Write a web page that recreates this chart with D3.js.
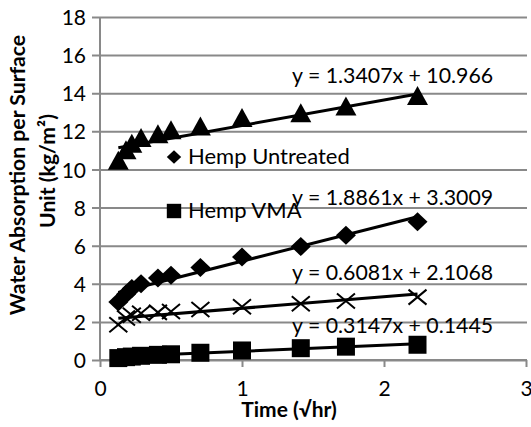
<!DOCTYPE html>
<html>
<head>
<meta charset="utf-8">
<script src="https://cdn.jsdelivr.net/npm/d3@7"></script>
<style>
  body { margin: 0; background: #fff; }
  svg { display: block; }
  text { font-family: Lato, "Open Sans", sans-serif; fill: #000; }
</style>
</head>
<body>
<svg id="chart" width="531" height="427"></svg>
<script>
// Square root of elapsed time (√hr) for every reading
const sqrtTime = [0.129, 0.183, 0.224, 0.289, 0.408, 0.5, 0.707, 1, 1.414, 1.732, 2.236];

// Water absorption per surface unit (kg/m²), one array per sample
const triangleValues = [10.4, 10.95, 11.3, 11.6, 11.8, 12.0, 12.2, 12.65, 12.9, 13.25, 13.8];
const diamondValues  = [3.05, 3.45, 3.75, 4.0, 4.3, 4.45, 4.85, 5.4, 5.95, 6.55, 7.25];
const crossValues    = [1.85, 2.2, 2.35, 2.45, 2.5, 2.55, 2.65, 2.8, 2.95, 3.1, 3.3];
const squareValues   = [0.1, 0.15, 0.18, 0.22, 0.27, 0.3, 0.38, 0.5, 0.62, 0.7, 0.8];

// Linear trendline coefficients (y = slope·x + intercept), same order as above
const markerKinds = ["triangle", "diamond", "cross", "square"];
const trendSlopes = [1.3407, 1.8861, 0.6081, 0.3147];
const trendIntercepts = [10.966, 3.3009, 2.1068, 0.1445];

// Legend entries
const legendNames = ["Hemp Untreated", "Hemp VMA"];
const legendKinds = ["diamond", "square"];

// Axis ticks
const xTicks = [0, 1, 2, 3];
const yTicks = [0, 2, 4, 6, 8, 10, 12, 14, 16, 18];

const seriesValues = [triangleValues, diamondValues, crossValues, squareValues];

const svg = d3.select("#chart");
const plot = { left: 100, right: 526, top: 17, bottom: 360 };
const gridColor = "#898989";
const tickFont = 21;

const x = d3.scaleLinear().domain([0, 3]).range([plot.left, plot.right]);
const y = d3.scaleLinear().domain([0, 18]).range([plot.bottom, plot.top]);

// Horizontal gridlines with left tick stubs
const yAxis = d3.axisLeft(y).tickValues(yTicks).tickSize(0).tickPadding(14).tickFormat(d3.format("d"));
const yG = svg.append("g").attr("transform", `translate(${plot.left},0)`).call(yAxis);
yG.select(".domain").remove();
yG.selectAll(".tick line")
  .attr("x1", -8).attr("x2", plot.right - plot.left + 1)
  .attr("stroke", gridColor).attr("stroke-width", 2);
yG.selectAll(".tick text").attr("font-size", tickFont).attr("font-family", "Lato").attr("fill", "#000").attr("dy", "0.36em");

// Bottom axis with downward ticks
const xAxis = d3.axisBottom(x).tickValues(xTicks).tickSize(7).tickPadding(0).tickFormat(d3.format("d"));
const xG = svg.append("g").attr("transform", `translate(0,${plot.bottom})`).call(xAxis);
xG.select(".domain").attr("d", `M${plot.left},0H${plot.right + 1}`).attr("stroke", gridColor).attr("stroke-width", 2);
xG.selectAll(".tick line").attr("stroke", gridColor).attr("stroke-width", 2);
xG.selectAll(".tick text").attr("font-size", tickFont).attr("font-family", "Lato").attr("fill", "#000")
  .attr("y", 36).attr("dy", 0);

// Vertical value axis line
svg.append("line")
  .attr("x1", x(0)).attr("x2", x(0))
  .attr("y1", y(18)).attr("y2", y(0))
  .attr("stroke", gridColor).attr("stroke-width", 2);

// Marker shapes
function markerPath(kind) {
  switch (kind) {
    case "triangle": return "M0,-11L10.5,8L-10.5,8Z";
    case "diamond":  return "M0,-9.5L10,0L0,9.5L-10,0Z";
    case "square":   return "M-9,-9H9V9H-9Z";
    case "cross":    return "M-9,-7.5L9,7.5M-9,7.5L9,-7.5";
  }
}

const marks = svg.append("g");
seriesValues.forEach((vals, i) => {
  const kind = markerKinds[i];
  marks.append("g").selectAll("path")
    .data(vals.map((v, j) => [sqrtTime[j], v]))
    .join("path")
    .attr("transform", d => `translate(${x(d[0])},${y(d[1])})`)
    .attr("d", markerPath(kind))
    .attr("fill", kind === "cross" ? "none" : "#000")
    .attr("stroke", "#000")
    .attr("stroke-width", kind === "cross" ? 2 : 0);
});

// Linear trendlines across the measured range
const xMin = d3.min(sqrtTime), xMax = d3.max(sqrtTime);
const line = d3.line().x(d => x(d[0])).y(d => y(d[1]));
trendSlopes.forEach((m, i) => {
  const b = trendIntercepts[i];
  svg.append("path")
    .attr("d", line([[xMin, m * xMin + b], [xMax, m * xMax + b]]))
    .attr("stroke", "#000").attr("stroke-width", 3).attr("fill", "none");
});

// Trendline equations
const eqBaselines = [83, 205, 280, 333];
trendSlopes.forEach((m, i) => {
  svg.append("text")
    .attr("x", 292).attr("y", eqBaselines[i])
    .attr("font-size", 21.3)
    .text(`y = ${m}x + ${trendIntercepts[i]}`);
});

// Legend (no frame)
const legendRows = [157, 211];
legendNames.forEach((name, i) => {
  const scale = legendKinds[i] === "diamond" ? 0.72 : 0.8;
  svg.append("path")
    .attr("transform", `translate(174,${legendRows[i]}) scale(${scale})`)
    .attr("d", markerPath(legendKinds[i]))
    .attr("fill", "#000");
  svg.append("text")
    .attr("x", 188).attr("y", legendRows[i] + 7)
    .attr("font-size", 22)
    .text(name);
});

// Axis titles
svg.append("text")
  .attr("x", 289).attr("y", 417)
  .attr("text-anchor", "middle")
  .attr("font-size", 21).attr("font-weight", "bold")
  .text("Time (√hr)");

const yTitle = svg.append("text")
  .attr("transform", "translate(0,175) rotate(-90)")
  .attr("text-anchor", "middle")
  .attr("font-size", 21.2).attr("font-weight", "bold");
yTitle.append("tspan").attr("x", 0).attr("y", 25).text("Water Absorption per Surface");
yTitle.append("tspan").attr("x", 4).attr("y", 55).text("Unit (kg/m²)");
</script>
</body>
</html>
